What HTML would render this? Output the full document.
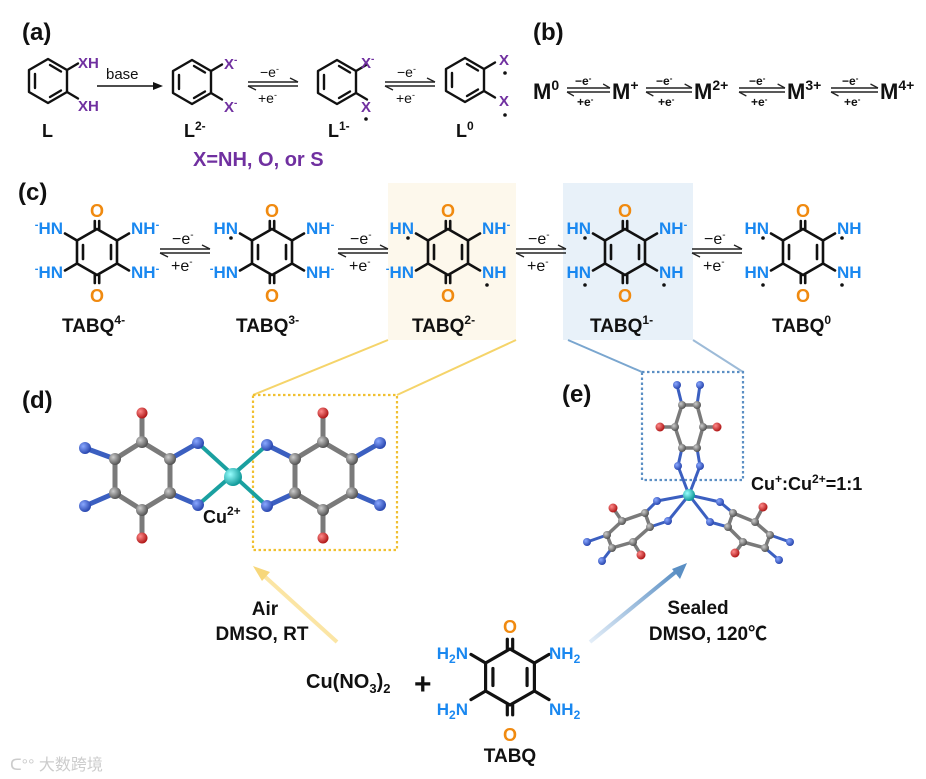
<!DOCTYPE html>
<html><head><meta charset="utf-8"><style>
html,body{margin:0;padding:0;background:#fff}
svg{display:block}
text{font-family:"Liberation Sans","Noto Sans CJK SC",sans-serif;font-weight:bold}
.b{fill:#1a88f0;font-size:17px}
.o{fill:#f08a10;font-size:18px}
.k{fill:#111}
.p{fill:#7030a0}
</style></head><body>
<svg width="926" height="779" viewBox="0 0 926 779" xmlns="http://www.w3.org/2000/svg">
<defs>
<symbol id="ring" overflow="visible">
<g stroke="#111" stroke-width="2.6" fill="none" stroke-linecap="round">
<polygon points="0,-23 20,-11.5 20,11.5 0,23 -20,11.5 -20,-11.5" stroke-linejoin="round"/>
<line x1="-14" y1="-7" x2="-14" y2="7"/><line x1="14" y1="-7" x2="14" y2="7"/>
<line x1="-2.2" y1="-23" x2="-2.2" y2="-31"/><line x1="2.2" y1="-23" x2="2.2" y2="-31"/>
<line x1="-2.2" y1="23" x2="-2.2" y2="31"/><line x1="2.2" y1="23" x2="2.2" y2="31"/>
<line x1="-20" y1="-11.5" x2="-32" y2="-18.5"/><line x1="20" y1="-11.5" x2="32" y2="-18.5"/>
<line x1="-20" y1="11.5" x2="-32" y2="18.5"/><line x1="20" y1="11.5" x2="32" y2="18.5"/>
</g></symbol>
<symbol id="benz" overflow="visible">
<g stroke="#111" stroke-width="2.4" fill="none" stroke-linecap="round">
<polygon points="0,-22 19,-11 19,11 0,22 -19,11 -19,-11" stroke-linejoin="round"/>
<line x1="-13" y1="-7" x2="-13" y2="7"/><line x1="2" y1="-16" x2="13" y2="-9.5"/><line x1="2" y1="16" x2="13" y2="9.5"/>
<line x1="19" y1="-11" x2="30" y2="-17.5"/><line x1="19" y1="11" x2="30" y2="17.5"/>
</g></symbol>
<symbol id="eq" overflow="visible">
<g stroke="#222" stroke-width="1.4" fill="none">
<line x1="0" y1="-2" x2="50" y2="-2"/><line x1="50" y1="-2" x2="42" y2="-6"/>
<line x1="0" y1="2" x2="50" y2="2"/><line x1="0" y1="2" x2="8" y2="6"/>
</g></symbol>
<radialGradient id="gC" cx="35%" cy="35%" r="65%"><stop offset="0" stop-color="#ccc"/><stop offset="1" stop-color="#555"/></radialGradient>
<radialGradient id="gN" cx="35%" cy="35%" r="65%"><stop offset="0" stop-color="#8aa8ff"/><stop offset="1" stop-color="#2a48b0"/></radialGradient>
<radialGradient id="gO" cx="35%" cy="35%" r="65%"><stop offset="0" stop-color="#ff8a8a"/><stop offset="1" stop-color="#b01818"/></radialGradient>
<radialGradient id="gU" cx="35%" cy="35%" r="65%"><stop offset="0" stop-color="#9ff"/><stop offset="1" stop-color="#119a9a"/></radialGradient>
<linearGradient id="ya" x1="0" y1="1" x2="1" y2="0"><stop offset="0" stop-color="#fff3cf"/><stop offset="1" stop-color="#f7d77a"/></linearGradient>
<linearGradient id="ba" x1="0" y1="1" x2="1" y2="0"><stop offset="0" stop-color="#e4eef8"/><stop offset="1" stop-color="#5a8fc4"/></linearGradient>
</defs>

<rect x="388" y="183" width="128" height="157" fill="#fdf8ec"/>
<rect x="563" y="183" width="130" height="157" fill="#e8f1f9"/>
<line x1="253" y1="395" x2="388" y2="340" stroke="#f5d46a" stroke-width="2"/>
<line x1="397" y1="395" x2="516" y2="340" stroke="#f5d46a" stroke-width="2"/>
<line x1="642" y1="372" x2="568" y2="340" stroke="#7aa6cf" stroke-width="2"/>
<line x1="743" y1="372" x2="693" y2="340" stroke="#9dbbd8" stroke-width="2"/>

<text x="22" y="40" font-size="24" class="k">(a)</text>
<text x="533" y="40" font-size="24" class="k">(b)</text>
<text x="18" y="200" font-size="24" class="k">(c)</text>
<text x="22" y="408" font-size="24" class="k">(d)</text>
<text x="562" y="402" font-size="24" class="k">(e)</text>

<!-- (a) -->
<use href="#benz" x="48" y="81"/>
<text x="78" y="68" font-size="15" class="p">XH</text>
<text x="78" y="111" font-size="15" class="p">XH</text>
<text x="42" y="137" font-size="18" class="k">L</text>
<line x1="97" y1="86" x2="158" y2="86" stroke="#111" stroke-width="1.6"/><polygon points="163,86 153,82 153,90" fill="#111"/>
<text x="106" y="79" font-size="15" class="k" style="font-weight:normal">base</text>
<use href="#benz" x="192" y="82"/>
<text x="224" y="69" font-size="15" class="p">X<tspan dy="-6" font-size="10">-</tspan></text>
<text x="224" y="112" font-size="15" class="p">X<tspan dy="-6" font-size="10">-</tspan></text>
<text x="184" y="137" font-size="18" class="k">L<tspan dy="-7" font-size="12">2-</tspan></text>
<use href="#eq" x="248" y="84"/>
<text x="260" y="77" font-size="14" class="k" style="font-weight:normal">−e<tspan dy="-5" font-size="9">-</tspan></text>
<text x="258" y="103" font-size="14" class="k" style="font-weight:normal">+e<tspan dy="-5" font-size="9">-</tspan></text>
<use href="#benz" x="337" y="82"/>
<text x="361" y="68" font-size="15" class="p">X<tspan dy="-6" font-size="10">-</tspan></text>
<text x="361" y="112" font-size="15" class="p">X</text>
<circle cx="366" cy="119" r="1.8" fill="#111"/>
<text x="328" y="137" font-size="18" class="k">L<tspan dy="-7" font-size="12">1-</tspan></text>
<use href="#eq" x="385" y="84"/>
<text x="397" y="77" font-size="14" class="k" style="font-weight:normal">−e<tspan dy="-5" font-size="9">-</tspan></text>
<text x="396" y="103" font-size="14" class="k" style="font-weight:normal">+e<tspan dy="-5" font-size="9">-</tspan></text>
<use href="#benz" x="465" y="80"/>
<text x="499" y="65" font-size="15" class="p">X</text>
<circle cx="505" cy="73" r="1.8" fill="#111"/>
<text x="499" y="106" font-size="15" class="p">X</text>
<circle cx="505" cy="115" r="1.8" fill="#111"/>
<text x="456" y="137" font-size="18" class="k">L<tspan dy="-7" font-size="12">0</tspan></text>
<text x="193" y="166" font-size="20" class="p">X=NH, O, or S</text>

<!-- (b) -->
<g font-size="22" class="k">
<text x="533" y="99">M<tspan dy="-9" font-size="14">0</tspan></text>
<text x="612" y="99">M<tspan dy="-9" font-size="14">+</tspan></text>
<text x="694" y="99">M<tspan dy="-9" font-size="14">2+</tspan></text>
<text x="787" y="99">M<tspan dy="-9" font-size="14">3+</tspan></text>
<text x="880" y="99">M<tspan dy="-9" font-size="14">4+</tspan></text>
</g>
<g font-size="12" class="k" style="font-weight:normal">
<use href="#eq" x="567" y="90" transform="translate(567 90) scale(0.86 1) translate(-567 -90)"/>
<text x="575" y="85">−e<tspan dy="-4" font-size="8">-</tspan></text><text x="577" y="106">+e<tspan dy="-4" font-size="8">-</tspan></text>
<use href="#eq" x="646" y="90" transform="translate(646 90) scale(0.92 1) translate(-646 -90)"/>
<text x="656" y="85">−e<tspan dy="-4" font-size="8">-</tspan></text><text x="658" y="106">+e<tspan dy="-4" font-size="8">-</tspan></text>
<use href="#eq" x="739" y="90" transform="translate(739 90) scale(0.92 1) translate(-739 -90)"/>
<text x="749" y="85">−e<tspan dy="-4" font-size="8">-</tspan></text><text x="751" y="106">+e<tspan dy="-4" font-size="8">-</tspan></text>
<use href="#eq" x="831" y="90" transform="translate(831 90) scale(0.94 1) translate(-831 -90)"/>
<text x="842" y="85">−e<tspan dy="-4" font-size="8">-</tspan></text><text x="844" y="106">+e<tspan dy="-4" font-size="8">-</tspan></text>
</g>

<!-- (c) -->
<g>
<use href="#ring" x="97" y="252"/>
<text x="97" y="217" class="o" text-anchor="middle">O</text><text x="97" y="302" class="o" text-anchor="middle">O</text>
<text x="63" y="234" class="b" text-anchor="end"><tspan dy="-6" font-size="11">-</tspan><tspan dy="6">HN</tspan></text>
<text x="63" y="278" class="b" text-anchor="end"><tspan dy="-6" font-size="11">-</tspan><tspan dy="6">HN</tspan></text>
<text x="131" y="234" class="b">NH<tspan dy="-6" font-size="11">-</tspan></text>
<text x="131" y="278" class="b">NH<tspan dy="-6" font-size="11">-</tspan></text>
<text x="62" y="332" font-size="19" class="k">TABQ<tspan dy="-8" font-size="12">4-</tspan></text>

<use href="#eq" x="160" y="251"/>
<text x="172" y="244" font-size="16" class="k" style="font-weight:normal">−e<tspan dy="-6" font-size="10">-</tspan></text>
<text x="171" y="271" font-size="16" class="k" style="font-weight:normal">+e<tspan dy="-6" font-size="10">-</tspan></text>

<use href="#ring" x="272" y="252"/>
<text x="272" y="217" class="o" text-anchor="middle">O</text><text x="272" y="302" class="o" text-anchor="middle">O</text>
<text x="238" y="234" class="b" text-anchor="end">HN</text><circle cx="231" cy="238" r="1.8" fill="#111"/>
<text x="238" y="278" class="b" text-anchor="end"><tspan dy="-6" font-size="11">-</tspan><tspan dy="6">HN</tspan></text>
<text x="306" y="234" class="b">NH<tspan dy="-6" font-size="11">-</tspan></text>
<text x="306" y="278" class="b">NH<tspan dy="-6" font-size="11">-</tspan></text>
<text x="236" y="332" font-size="19" class="k">TABQ<tspan dy="-8" font-size="12">3-</tspan></text>

<use href="#eq" x="338" y="251"/>
<text x="350" y="244" font-size="16" class="k" style="font-weight:normal">−e<tspan dy="-6" font-size="10">-</tspan></text>
<text x="349" y="271" font-size="16" class="k" style="font-weight:normal">+e<tspan dy="-6" font-size="10">-</tspan></text>

<use href="#ring" x="448" y="252"/>
<text x="448" y="217" class="o" text-anchor="middle">O</text><text x="448" y="302" class="o" text-anchor="middle">O</text>
<text x="414" y="234" class="b" text-anchor="end">HN</text><circle cx="408" cy="238" r="1.8" fill="#111"/>
<text x="414" y="278" class="b" text-anchor="end"><tspan dy="-6" font-size="11">-</tspan><tspan dy="6">HN</tspan></text>
<text x="482" y="234" class="b">NH<tspan dy="-6" font-size="11">-</tspan></text>
<text x="482" y="278" class="b">NH</text><circle cx="487" cy="285" r="1.8" fill="#111"/>
<text x="412" y="332" font-size="19" class="k">TABQ<tspan dy="-8" font-size="12">2-</tspan></text>

<use href="#eq" x="516" y="251"/>
<text x="528" y="244" font-size="16" class="k" style="font-weight:normal">−e<tspan dy="-6" font-size="10">-</tspan></text>
<text x="527" y="271" font-size="16" class="k" style="font-weight:normal">+e<tspan dy="-6" font-size="10">-</tspan></text>

<use href="#ring" x="625" y="252"/>
<text x="625" y="217" class="o" text-anchor="middle">O</text><text x="625" y="302" class="o" text-anchor="middle">O</text>
<text x="591" y="234" class="b" text-anchor="end">HN</text><circle cx="585" cy="238" r="1.8" fill="#111"/>
<text x="591" y="278" class="b" text-anchor="end">HN</text><circle cx="585" cy="285" r="1.8" fill="#111"/>
<text x="659" y="234" class="b">NH<tspan dy="-6" font-size="11">-</tspan></text>
<text x="659" y="278" class="b">NH</text><circle cx="664" cy="285" r="1.8" fill="#111"/>
<text x="590" y="332" font-size="19" class="k">TABQ<tspan dy="-8" font-size="12">1-</tspan></text>

<use href="#eq" x="692" y="251"/>
<text x="704" y="244" font-size="16" class="k" style="font-weight:normal">−e<tspan dy="-6" font-size="10">-</tspan></text>
<text x="703" y="271" font-size="16" class="k" style="font-weight:normal">+e<tspan dy="-6" font-size="10">-</tspan></text>

<use href="#ring" x="803" y="252"/>
<text x="803" y="217" class="o" text-anchor="middle">O</text><text x="803" y="302" class="o" text-anchor="middle">O</text>
<text x="769" y="234" class="b" text-anchor="end">HN</text><circle cx="763" cy="238" r="1.8" fill="#111"/>
<text x="769" y="278" class="b" text-anchor="end">HN</text><circle cx="763" cy="285" r="1.8" fill="#111"/>
<text x="837" y="234" class="b">NH</text><circle cx="842" cy="238" r="1.8" fill="#111"/>
<text x="837" y="278" class="b">NH</text><circle cx="842" cy="285" r="1.8" fill="#111"/>
<text x="772" y="332" font-size="19" class="k">TABQ<tspan dy="-8" font-size="12">0</tspan></text>
</g>

<!-- (d) -->
<rect x="253" y="395" width="144" height="155" fill="none" stroke="#f0c030" stroke-width="2.2" stroke-dasharray="2.5,2.5"/>
<g stroke="#7a7a7a" stroke-width="5" stroke-linecap="round">
<line x1="142" y1="442" x2="115" y2="459"/><line x1="115" y1="459" x2="115" y2="493"/><line x1="115" y1="493" x2="142" y2="510"/>
<line x1="142" y1="510" x2="170" y2="493"/><line x1="170" y1="493" x2="170" y2="459"/><line x1="170" y1="459" x2="142" y2="442"/>
<line x1="142" y1="442" x2="142" y2="413"/><line x1="142" y1="510" x2="142" y2="538"/>
<line x1="323" y1="442" x2="295" y2="459"/><line x1="295" y1="459" x2="295" y2="493"/><line x1="295" y1="493" x2="323" y2="510"/>
<line x1="323" y1="510" x2="352" y2="493"/><line x1="352" y1="493" x2="352" y2="459"/><line x1="352" y1="459" x2="323" y2="442"/>
<line x1="323" y1="442" x2="323" y2="413"/><line x1="323" y1="510" x2="323" y2="538"/>
</g>
<g stroke="#3b5fc0" stroke-width="5" stroke-linecap="round">
<line x1="115" y1="459" x2="85" y2="448"/><line x1="115" y1="493" x2="85" y2="506"/>
<line x1="170" y1="459" x2="198" y2="443"/><line x1="170" y1="493" x2="198" y2="505"/>
<line x1="295" y1="459" x2="267" y2="445"/><line x1="295" y1="493" x2="267" y2="506"/>
<line x1="352" y1="459" x2="380" y2="443"/><line x1="352" y1="493" x2="380" y2="505"/>
</g>
<g stroke="#1aa0a0" stroke-width="4"><line x1="198" y1="443" x2="267" y2="506"/><line x1="198" y1="505" x2="267" y2="445"/></g>
<g fill="url(#gC)">
<circle cx="142" cy="442" r="6"/><circle cx="115" cy="459" r="6"/><circle cx="115" cy="493" r="6"/><circle cx="142" cy="510" r="6"/><circle cx="170" cy="459" r="6"/><circle cx="170" cy="493" r="6"/>
<circle cx="323" cy="442" r="6"/><circle cx="295" cy="459" r="6"/><circle cx="295" cy="493" r="6"/><circle cx="323" cy="510" r="6"/><circle cx="352" cy="459" r="6"/><circle cx="352" cy="493" r="6"/>
</g>
<g fill="url(#gN)">
<circle cx="85" cy="448" r="6"/><circle cx="85" cy="506" r="6"/><circle cx="198" cy="443" r="6"/><circle cx="198" cy="505" r="6"/>
<circle cx="267" cy="445" r="6"/><circle cx="267" cy="506" r="6"/><circle cx="380" cy="443" r="6"/><circle cx="380" cy="505" r="6"/>
</g>
<g fill="url(#gO)"><circle cx="142" cy="413" r="5.5"/><circle cx="142" cy="538" r="5.5"/><circle cx="323" cy="413" r="5.5"/><circle cx="323" cy="538" r="5.5"/></g>
<circle cx="233" cy="477" r="9" fill="url(#gU)"/>
<text x="203" y="523" font-size="18" class="k">Cu<tspan dy="-8" font-size="12">2+</tspan></text>

<!-- (e) -->
<rect x="642" y="372" width="101" height="108" fill="none" stroke="#5b8fc4" stroke-width="2.2" stroke-dasharray="2.5,2.5"/>
<g stroke="#7a7a7a" stroke-width="3.5" stroke-linecap="round">
<line x1="682" y1="448" x2="697" y2="448"/><line x1="682" y1="448" x2="675" y2="427"/><line x1="697" y1="448" x2="703" y2="427"/>
<line x1="675" y1="427" x2="682" y2="405"/><line x1="703" y1="427" x2="697" y2="405"/><line x1="682" y1="405" x2="697" y2="405"/>
<line x1="675" y1="427" x2="660" y2="427"/><line x1="703" y1="427" x2="717" y2="427"/>
<line x1="645" y1="513" x2="650" y2="527"/><line x1="645" y1="513" x2="622" y2="521"/><line x1="650" y1="527" x2="633" y2="542"/>
<line x1="622" y1="521" x2="613" y2="508"/><line x1="633" y1="542" x2="641" y2="555"/><line x1="622" y1="521" x2="607" y2="535"/>
<line x1="633" y1="542" x2="612" y2="548"/><line x1="607" y1="535" x2="612" y2="548"/>
<line x1="733" y1="513" x2="728" y2="527"/><line x1="733" y1="513" x2="755" y2="522"/><line x1="728" y1="527" x2="743" y2="542"/>
<line x1="755" y1="522" x2="763" y2="507"/><line x1="743" y1="542" x2="735" y2="553"/><line x1="755" y1="522" x2="770" y2="535"/>
<line x1="743" y1="542" x2="765" y2="548"/><line x1="770" y1="535" x2="765" y2="548"/>
</g>
<g stroke="#3b5fc0" stroke-width="3" stroke-linecap="round">
<line x1="678" y1="466" x2="682" y2="448"/><line x1="700" y1="466" x2="697" y2="448"/>
<line x1="682" y1="405" x2="677" y2="385"/><line x1="697" y1="405" x2="700" y2="385"/>
<line x1="657" y1="501" x2="645" y2="513"/><line x1="668" y1="521" x2="650" y2="527"/>
<line x1="607" y1="535" x2="587" y2="542"/><line x1="612" y1="548" x2="602" y2="561"/>
<line x1="720" y1="502" x2="733" y2="513"/><line x1="710" y1="522" x2="728" y2="527"/>
<line x1="770" y1="535" x2="790" y2="542"/><line x1="765" y1="548" x2="779" y2="560"/>
<line x1="678" y1="466" x2="689" y2="495"/><line x1="700" y1="466" x2="689" y2="495"/>
<line x1="657" y1="501" x2="689" y2="495"/><line x1="668" y1="521" x2="689" y2="495"/>
<line x1="720" y1="502" x2="689" y2="495"/><line x1="710" y1="522" x2="689" y2="495"/>
</g>
<g fill="url(#gC)">
<circle cx="682" cy="448" r="4"/><circle cx="697" cy="448" r="4"/><circle cx="675" cy="427" r="4"/><circle cx="703" cy="427" r="4"/><circle cx="682" cy="405" r="4"/><circle cx="697" cy="405" r="4"/>
<circle cx="645" cy="513" r="4"/><circle cx="650" cy="527" r="4"/><circle cx="622" cy="521" r="4"/><circle cx="633" cy="542" r="4"/><circle cx="607" cy="535" r="4"/><circle cx="612" cy="548" r="4"/>
<circle cx="733" cy="513" r="4"/><circle cx="728" cy="527" r="4"/><circle cx="755" cy="522" r="4"/><circle cx="743" cy="542" r="4"/><circle cx="770" cy="535" r="4"/><circle cx="765" cy="548" r="4"/>
</g>
<g fill="url(#gN)">
<circle cx="678" cy="466" r="4"/><circle cx="700" cy="466" r="4"/><circle cx="677" cy="385" r="4"/><circle cx="700" cy="385" r="4"/>
<circle cx="657" cy="501" r="4"/><circle cx="668" cy="521" r="4"/><circle cx="587" cy="542" r="4"/><circle cx="602" cy="561" r="4"/>
<circle cx="720" cy="502" r="4"/><circle cx="710" cy="522" r="4"/><circle cx="790" cy="542" r="4"/><circle cx="779" cy="560" r="4"/>
</g>
<g fill="url(#gO)">
<circle cx="660" cy="427" r="4.5"/><circle cx="717" cy="427" r="4.5"/><circle cx="613" cy="508" r="4.5"/><circle cx="641" cy="555" r="4.5"/><circle cx="763" cy="507" r="4.5"/><circle cx="735" cy="553" r="4.5"/>
</g>
<circle cx="689" cy="495" r="6" fill="url(#gU)"/>
<text x="751" y="490" font-size="18" class="k">Cu<tspan dy="-7" font-size="12">+</tspan><tspan dy="7">:Cu</tspan><tspan dy="-7" font-size="12">2+</tspan><tspan dy="7">=1:1</tspan></text>

<!-- reaction arrows -->
<line x1="337" y1="642" x2="262" y2="574" stroke="url(#ya)" stroke-width="4"/>
<polygon points="253,566 270,572 262,581" fill="#f7d77a"/>
<line x1="590" y1="642" x2="678" y2="570" stroke="url(#ba)" stroke-width="4"/>
<polygon points="687,563 680,579 672,569" fill="#5a8fc4"/>
<text x="265" y="615" font-size="19" class="k" text-anchor="middle">Air</text>
<text x="262" y="640" font-size="19" class="k" text-anchor="middle">DMSO, RT</text>
<text x="698" y="614" font-size="19" class="k" text-anchor="middle">Sealed</text>
<text x="708" y="640" font-size="19" class="k" text-anchor="middle">DMSO, 120℃</text>

<!-- bottom TABQ -->
<text x="306" y="688" font-size="20" class="k">Cu(NO<tspan dy="5" font-size="13">3</tspan><tspan dy="-5">)</tspan><tspan dy="5" font-size="13">2</tspan></text>
<text x="414" y="694" font-size="30" class="k">+</text>
<use href="#ring" x="510" y="677" transform="translate(510 677) scale(1.22) translate(-510 -677)"/>
<text x="510" y="633" class="o" text-anchor="middle" font-size="19">O</text>
<text x="510" y="741" class="o" text-anchor="middle" font-size="19">O</text>
<text x="468" y="659" class="b" text-anchor="end" font-size="18">H<tspan dy="4" font-size="12">2</tspan><tspan dy="-4">N</tspan></text>
<text x="468" y="715" class="b" text-anchor="end" font-size="18">H<tspan dy="4" font-size="12">2</tspan><tspan dy="-4">N</tspan></text>
<text x="549" y="659" class="b" font-size="18">NH<tspan dy="4" font-size="12">2</tspan></text>
<text x="549" y="715" class="b" font-size="18">NH<tspan dy="4" font-size="12">2</tspan></text>
<text x="510" y="762" font-size="19" class="k" text-anchor="middle">TABQ</text>

<text x="10" y="770" font-size="16" fill="#ccc" style="font-weight:normal">ᑕ°° 大数跨境</text>
</svg>
</body></html>
